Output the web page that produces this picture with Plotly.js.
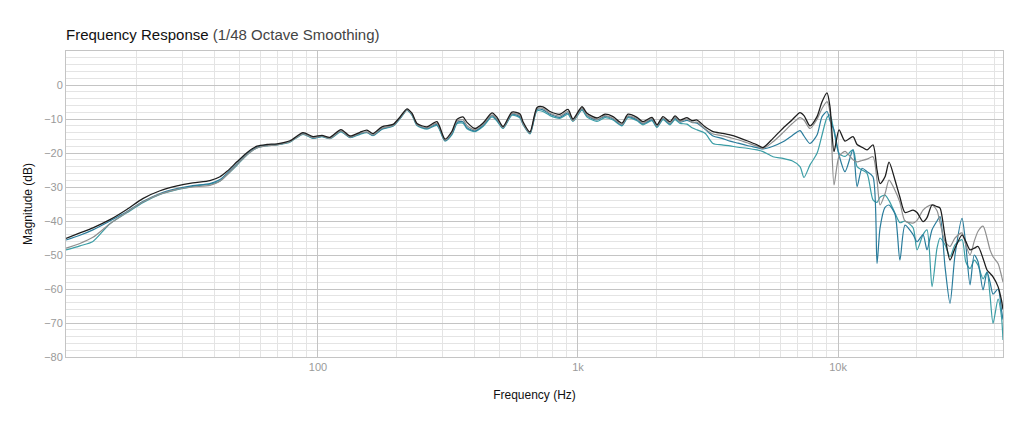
<!DOCTYPE html>
<html>
<head>
<meta charset="utf-8">
<script src="https://cdn.plot.ly/plotly-3.0.1.min.js"></script>
<style>
  html, body { margin: 0; padding: 0; background: #fff; }
  #plot { width: 1024px; height: 427px; }
</style>
</head>
<body>
<div id="plot"></div>
<script>
// frequency points (Hz)
var freqHz = [
    10.74, 12.15, 13.63, 15.85, 18.4, 21.2, 24.7, 28.7, 33.0, 38.4,
    42.0, 44.7, 48.8, 53.3, 58.3, 63.6, 69.6, 78.0, 87.6, 95.7,
    103.6, 111.2, 122.6, 132.8, 145.0, 154.3, 162.7, 176.3, 194.3, 206.8,
    219.9, 229.9, 240.4, 262.6, 286.8, 307.9, 327.6, 342.4, 361.2, 374.3,
    401.7, 431.2, 467.0, 488.2, 514.8, 557.5, 598.4, 614.5, 653.8, 695.6,
    733.6, 780.3, 852.6, 915.1, 956.7, 1036, 1083, 1183, 1270, 1364,
    1476, 1557, 1686, 1778, 1926, 2013, 2123, 2258, 2361, 2468,
    2626, 2745, 2869, 3081, 3306, 3580, 3843, 4125, 4467, 4882,
    5147, 5623, 6144, 6655, 7141, 7398, 7803, 8303, 8681, 9073,
    9316, 9652, 10090, 10640, 11420, 11840, 12370, 12930, 13630, 14125,
    14510, 15160, 15710, 16570, 17300, 18100, 19440, 20130, 21230, 21990,
    22990, 24030, 24680, 25790, 26960, 28180, 29990, 31000, 32190, 33400,
    34560, 36120, 37410, 38430, 39460, 41250, 42500, 43100
];

// magnitude (dB) for each measurement
var magBlack = [
    -45.1, -43.5, -42.0, -39.6, -36.6, -33.4, -31.1, -29.7, -28.8, -28.1,
    -27.0, -25.4, -22.6, -19.9, -18.0, -17.5, -17.3, -16.4, -14.0, -15.2,
    -14.8, -15.4, -13.1, -15.0, -13.9, -13.3, -14.3, -12.3, -11.6, -9.4,
    -7.0, -8.3, -11.3, -12.3, -10.8, -15.9, -13.6, -10.1, -9.4, -11.0,
    -12.8, -11.2, -8.2, -9.5, -12.2, -8.0, -8.5, -10.8, -13.8, -6.6,
    -6.4, -7.8, -8.6, -7.2, -10.0, -6.4, -8.3, -9.7, -8.6, -9.3,
    -11.2, -8.6, -9.5, -10.8, -9.5, -11.7, -9.3, -10.8, -9.1, -10.3,
    -9.6, -10.5, -10.3, -12.3, -13.7, -14.2, -14.7, -15.4, -16.4, -17.6,
    -18.4, -15.7, -12.7, -10.3, -8.1, -9.0, -12.0, -9.3, -4.9, -2.3,
    -6.5, -19.6, -13.2, -16.5, -15.2, -17.5, -18.3, -19.1, -17.6, -25.0,
    -29.0, -27.0, -22.7, -28.0, -33.0, -37.5, -36.8, -37.5, -40.2, -39.0,
    -35.3, -35.8, -36.2, -44.6, -51.5, -48.0, -44.1, -46.0, -48.5, -48.0,
    -47.5, -51.0, -54.4, -55.4, -56.4, -59.3, -63.2, -66.0
];

var magGray = [
    -48.0, -46.6, -44.8, -40.8, -37.4, -34.4, -32.1, -30.7, -30.0, -29.5,
    -28.3, -26.4, -23.4, -20.5, -18.5, -17.9, -17.6, -16.7, -14.4, -15.5,
    -15.0, -15.7, -13.5, -15.3, -14.2, -13.8, -14.7, -12.7, -11.9, -9.7,
    -7.3, -8.6, -11.6, -12.6, -11.3, -16.2, -14.0, -10.6, -10.2, -12.0,
    -13.2, -11.6, -8.8, -10.0, -12.5, -8.4, -9.0, -11.3, -14.1, -7.0,
    -6.9, -8.3, -9.1, -7.8, -10.5, -6.9, -8.8, -10.1, -9.0, -9.8,
    -11.6, -9.1, -9.9, -11.2, -9.9, -12.0, -9.7, -11.2, -9.5, -10.7,
    -10.0, -11.0, -10.9, -12.9, -14.4, -14.9, -15.5, -16.1, -17.0, -18.0,
    -18.7, -16.7, -14.0, -11.4, -9.6, -10.3, -12.8, -10.1, -6.9, -4.9,
    -8.0, -29.4, -21.0, -19.5, -22.0, -22.6, -22.2, -21.8, -21.1, -28.0,
    -35.3, -32.0, -28.0, -31.0, -34.5, -40.0, -40.6, -39.8, -36.8, -35.8,
    -35.3, -37.0, -40.5, -46.0, -47.5, -45.0, -43.5, -47.0, -50.0, -46.0,
    -43.0, -41.5, -45.0, -48.5, -50.5, -52.5, -56.0, -58.0
];

var magBlue = [
    -45.6, -44.2, -42.6, -40.0, -37.3, -34.3, -31.9, -30.5, -29.6, -29.0,
    -27.8, -26.0, -23.2, -20.3, -18.3, -17.7, -17.5, -16.6, -14.3, -15.6,
    -15.1, -15.6, -13.6, -15.4, -14.3, -13.9, -14.8, -12.9, -12.0, -9.8,
    -7.3, -8.7, -11.7, -12.8, -11.6, -16.3, -14.3, -11.0, -10.8, -12.6,
    -13.5, -11.9, -9.0, -10.3, -12.6, -8.6, -9.4, -11.4, -14.2, -7.2,
    -7.3, -8.6, -9.5, -8.2, -10.4, -7.0, -9.0, -10.3, -9.2, -10.0,
    -11.8, -9.3, -10.2, -11.4, -10.2, -12.2, -9.9, -11.4, -9.8, -10.9,
    -10.4, -11.0, -11.2, -13.0, -15.0, -15.7, -16.5, -17.1, -17.8, -18.4,
    -18.8, -18.0, -16.7, -14.9, -13.4, -15.0, -17.2, -14.7, -9.3, -7.8,
    -10.5, -13.2, -20.6, -25.5, -19.1, -29.9, -24.5, -25.5, -27.0, -52.5,
    -42.0, -36.0, -35.3, -38.0, -51.5, -41.2, -44.0, -46.1, -44.0, -48.5,
    -42.6, -40.0, -38.7, -53.4, -64.2, -50.0, -39.2, -47.0, -58.8, -50.0,
    -52.0, -60.3, -55.0, -58.0, -61.5, -60.0, -66.0, -69.0
];

var magTeal = [
    -48.5, -47.3, -46.0, -40.8, -37.6, -34.6, -32.2, -30.8, -29.8, -29.2,
    -28.2, -26.4, -23.6, -20.6, -18.5, -17.9, -17.6, -16.8, -14.5, -15.7,
    -15.2, -15.8, -13.8, -15.5, -14.5, -14.0, -14.9, -13.0, -12.1, -9.9,
    -7.5, -8.9, -11.9, -13.0, -11.9, -16.5, -14.6, -11.4, -11.2, -12.9,
    -13.7, -12.2, -9.4, -10.6, -12.8, -8.9, -9.7, -11.6, -14.4, -7.6,
    -7.8, -9.0, -9.8, -8.6, -10.7, -7.4, -9.4, -10.7, -9.6, -10.3,
    -12.0, -9.6, -10.5, -11.7, -10.5, -12.5, -10.2, -11.7, -10.2, -11.3,
    -11.5, -12.6, -13.2, -14.2, -17.2, -17.6, -17.9, -18.3, -18.6, -19.1,
    -19.6, -21.1, -21.6, -22.3, -24.0, -27.2, -23.5, -20.1, -14.7, -9.5,
    -8.8, -13.7, -20.1, -21.0, -19.1, -24.0, -25.0, -26.0, -33.8, -34.5,
    -33.0, -32.4, -34.0, -37.7, -40.5, -40.0, -42.0, -48.5, -44.0, -42.6,
    -59.3, -48.0, -45.0, -47.0, -50.5, -47.0, -45.5, -52.0, -54.0, -51.5,
    -53.0, -57.0, -55.0, -62.0, -70.1, -63.0, -68.0, -75.0
];

var xTickVals = [100, 1000, 10000];
var xTickText = ['100', '1k', '10k'];
var yTickVals = [-80, -70, -60, -50, -40, -30, -20, -10, 0];

var fontFamily = "'Liberation Sans', Arial, Helvetica, sans-serif";

// minor vertical gridlines at 2..9 of each decade
var xMinor = [];
[10, 100, 1000, 10000].forEach(function(dec) {
    for (var m = 2; m <= 9; m++) {
        xMinor.push(dec * m);
    }
});

function makeTrace(y, color, width) {
    return {
        x: freqHz,
        y: y,
        type: 'scatter',
        mode: 'lines',
        line: { color: color, width: width, shape: 'spline', smoothing: 0.7 },
        hoverinfo: 'skip',
        showlegend: false
    };
}

var traces = [
    makeTrace(magTeal, '#3c9ea6', 1.2),
    makeTrace(magBlue, '#2a7c9c', 1.2),
    makeTrace(magGray, '#8f8f8f', 1.2),
    makeTrace(magBlack, '#1e1e1e', 1.3)
];

var layout = {
    width: 1024,
    height: 427,
    paper_bgcolor: '#fff',
    plot_bgcolor: '#fff',
    font: { family: fontFamily, size: 11, color: '#9a9a9a' },
    margin: { t: 51, r: 21, b: 70, l: 66 },
    title: {
        text: 'Frequency Response <span style="color:#444">(1/48 Octave Smoothing)</span>',
        font: { family: fontFamily, size: 15, color: '#111' },
        x: 66 / 1024,
        xanchor: 'left',
        xref: 'container',
        y: 1 - 35 / 427,
        yanchor: 'middle',
        yref: 'container'
    },
    xaxis: {
        type: 'log',
        range: [Math.log10(10.74), Math.log10(43100)],
        tickmode: 'array',
        tickvals: xTickVals,
        ticktext: xTickText,
        ticks: '',
        showgrid: true,
        gridcolor: '#c4c4c4',
        gridwidth: 1,
        minor: {
            tickmode: 'array',
            tickvals: xMinor,
            showgrid: true,
            gridcolor: '#e4e4e4',
            gridwidth: 1,
            ticks: ''
        },
        showline: true,
        linecolor: '#c4c4c4',
        mirror: true,
        zeroline: false,
        tickfont: { size: 11, color: '#9a9a9a' },
        title: {
            text: 'Frequency (Hz)',
            font: { size: 12, color: '#111' },
            standoff: 18
        }
    },
    yaxis: {
        range: [-80, 10],
        tickmode: 'array',
        tickvals: yTickVals,
        ticks: '',
        showgrid: true,
        gridcolor: '#c4c4c4',
        gridwidth: 1,
        minor: {
            dtick: 2,
            showgrid: true,
            gridcolor: '#e4e4e4',
            gridwidth: 1,
            ticks: ''
        },
        showline: true,
        linecolor: '#c4c4c4',
        mirror: true,
        zeroline: false,
        tickfont: { size: 11, color: '#9a9a9a' },
        title: {
            text: 'Magnitude (dB)',
            font: { size: 12, color: '#111' },
            standoff: 8
        }
    }
};

Plotly.newPlot('plot', traces, layout, { staticPlot: true, displayModeBar: false });
</script>
</body>
</html>
